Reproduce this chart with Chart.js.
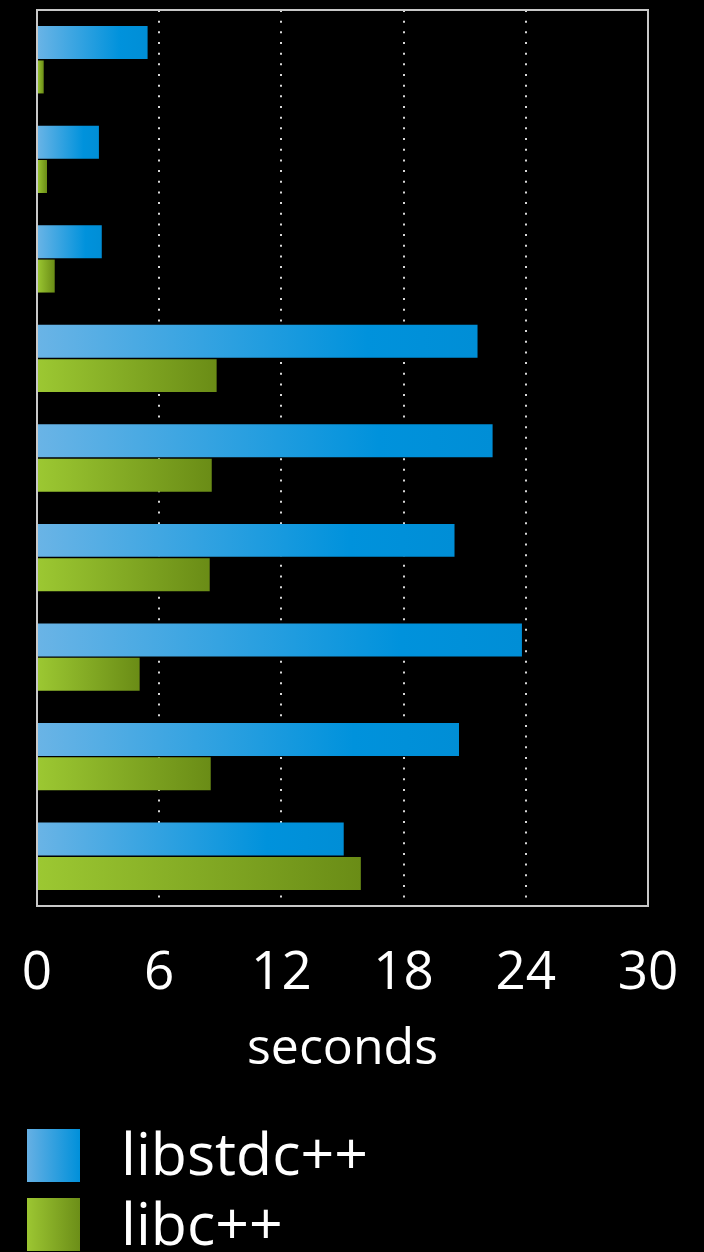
<!DOCTYPE html>
<html>
<head>
<meta charset="utf-8">
<title>libstdc++ vs libc++</title>
<script src="https://cdn.jsdelivr.net/npm/chart.js@4/dist/chart.umd.min.js"></script>
<style>
  html, body { margin: 0; padding: 0; background: #000; overflow: hidden; }
  body { width: 704px; height: 1252px; position: relative; font-family: "Open Sans", sans-serif; color: #fff; }
  #wrap { position: absolute; left: 0; top: 0; width: 704px; height: 1088px; }
  .key { position: absolute; left: 27px; width: 53px; height: 53px; }
  .key.std { top: 1129px; background: linear-gradient(to right, #66b0e4, #0090da); }
  .key.cxx { top: 1198px; background: linear-gradient(to right, #9cc632, #6c8e18); }
  .name { position: absolute; left: 121px; font-size: 59px; line-height: 80px; white-space: nowrap; }
  .name.std { top: 1112px; }
  .name.cxx { top: 1182px; }
</style>
</head>
<body>
<div id="wrap"><canvas id="chart"></canvas></div>
<div class="key std"></div><div class="name std">libstdc++</div>
<div class="key cxx"></div><div class="name cxx">libc++</div>
<script>
// one row per benchmark run, top to bottom
const runs = ['1', '2', '3', '4', '5', '6', '7', '8', '9'];
const libstdcxx = [5.43, 3.04, 3.18, 21.63, 22.37, 20.5, 23.81, 20.72, 15.06];
const libcxx = [0.33, 0.49, 0.87, 8.82, 8.58, 8.48, 5.04, 8.53, 15.9];
const secondsTicks = [0, 6, 12, 18, 24, 30];

const blueStops = [[0, '#6ab4e6'], [0.75, '#0092dc'], [1, '#008ed6']];
const greenStops = [[0, '#9cc832'], [1, '#6a8c16']];

// gradient runs along each bar, from zero to its value
function barGradient(ctx, stops) {
  const chart = ctx.chart;
  if (!chart.chartArea || ctx.type !== 'data') return stops[stops.length - 1][1];
  const x = chart.scales.x;
  const x0 = x.getPixelForValue(0);
  const x1 = x.getPixelForValue(ctx.raw);
  const g = chart.ctx.createLinearGradient(x0, 0, Math.max(x1, x0 + 1), 0);
  stops.forEach(([o, c]) => g.addColorStop(o, c));
  return g;
}

// light frame round the plot area
const frame = {
  id: 'frame',
  afterDraw(chart) {
    const { ctx, chartArea: a } = chart;
    ctx.save();
    ctx.strokeStyle = '#c8c8c8';
    ctx.lineWidth = 2;
    ctx.strokeRect(a.left, a.top, a.right - a.left, a.bottom - a.top);
    ctx.restore();
  }
};

new Chart(document.getElementById('chart'), {
  type: 'bar',
  data: {
    labels: runs,
    datasets: [
      {
        label: 'libstdc++',
        data: libstdcxx,
        backgroundColor: (ctx) => barGradient(ctx, blueStops),
        categoryPercentage: 0.69,
        barPercentage: 0.96,
      },
      {
        label: 'libc++',
        data: libcxx,
        backgroundColor: (ctx) => barGradient(ctx, greenStops),
        categoryPercentage: 0.69,
        barPercentage: 0.96,
      },
    ],
  },
  options: {
    indexAxis: 'y',
    responsive: true,
    maintainAspectRatio: false,
    animation: false,
    layout: { padding: { left: 37, right: 56, top: 10, bottom: 4 } },
    plugins: {
      legend: { display: false },
      tooltip: { enabled: false },
    },
    scales: {
      y: { display: false },
      x: {
        min: 0,
        max: 30,
        afterBuildTicks: (scale) => {
          scale.ticks = secondsTicks.map((v) => ({ value: v }));
        },
        afterFit: (scale) => {
          scale.height = 178;
          scale.paddingLeft = 0;
          scale.paddingRight = 0;
        },
        border: { display: false, dash: [2, 8.67] },
        grid: {
          drawTicks: false,
          lineWidth: 2,
          color: (ctx) => (ctx.tick && (ctx.tick.value === 0 || ctx.tick.value === 30)) ? 'rgba(0,0,0,0)' : '#d8d8d8',
        },
        ticks: {
          color: '#fff',
          padding: 36,
          font: { family: 'Open Sans', size: 53 },
        },
        title: {
          display: true,
          text: 'seconds',
          color: '#fff',
          padding: { top: 12, bottom: 4 },
          font: { family: 'Open Sans', size: 50 },
        },
      },
    },
  },
  plugins: [frame],
});
</script>
</body>
</html>
